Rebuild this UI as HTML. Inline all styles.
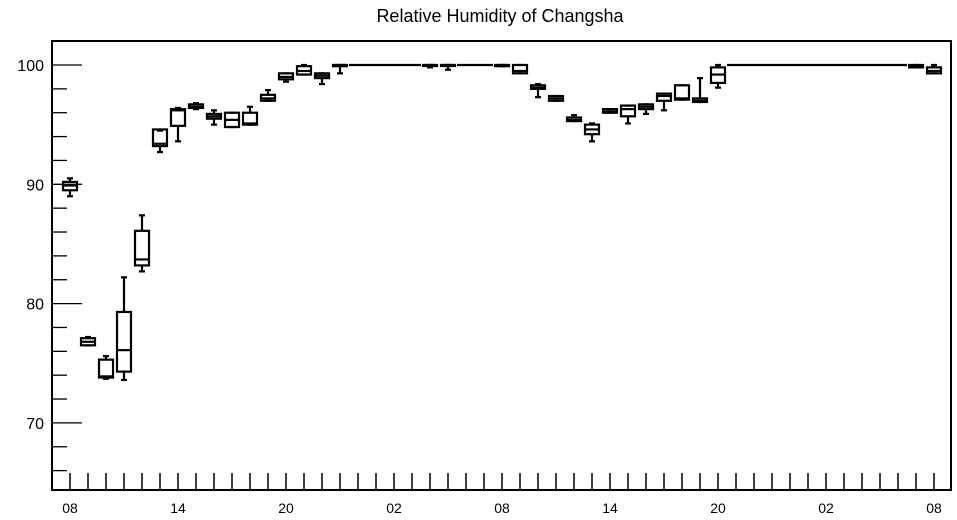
<!DOCTYPE html>
<html><head><meta charset="utf-8"><style>
body{margin:0;background:#fff;}
svg{display:block;font-family:"Liberation Sans",Arial,sans-serif;}
</style></head><body>
<svg id="chart" width="957" height="520">
<text x="500" y="22" text-anchor="middle" font-size="18">Relative Humidity of Changsha</text>
<rect x="52" y="41" width="899" height="449" fill="none" stroke="#000" stroke-width="2"/>
<g id="axes"></g>
<g id="boxes"></g>
</svg>
<script>
const hourLabels = ["08","14","20","02","08","14","20","02","08"];
const yTicks = [70,80,90,100];
// per-hour stats: [lowWhisker, q1, median, q3, highWhisker]
const lows    = [89.0,76.5,73.7,73.6,82.7,92.7,93.6,96.3,95.0,94.8,95.0,97.0,98.6,99.2,98.4,99.3,100,100,100,100,99.8,99.6,100,100,99.9,99.3,97.3,97.0,95.3,93.6,96.0,95.1,95.9,96.2,97.1,96.9,98.1,100,100,100,100,100,100,100,100,100,100,99.8,99.3];
const q1s     = [89.5,76.5,73.8,74.3,83.2,93.2,94.9,96.4,95.5,94.8,95.0,97.0,98.8,99.2,98.9,99.9,100,100,100,100,100,100,100,100,99.9,99.3,98.0,97.0,95.3,94.2,96.0,95.7,96.3,97.0,97.1,96.9,98.5,100,100,100,100,100,100,100,100,100,100,99.8,99.3];
const medians = [89.9,76.8,73.9,76.1,83.7,93.4,96.2,96.5,95.7,95.4,95.1,97.2,99.0,99.5,99.1,100,100,100,100,100,100,100,100,100,100,99.5,98.1,97.2,95.4,94.6,96.1,96.3,96.5,97.4,97.2,97.0,99.2,100,100,100,100,100,100,100,100,100,100,99.9,99.5];
const q3s     = [90.2,77.1,75.3,79.3,86.1,94.6,96.3,96.7,95.9,96.0,96.0,97.5,99.3,99.9,99.3,100,100,100,100,100,100,100,100,100,100,100,98.3,97.4,95.6,95.0,96.3,96.6,96.7,97.6,98.3,97.2,99.8,100,100,100,100,100,100,100,100,100,100,100,99.8];
const highs   = [90.5,77.2,75.6,82.2,87.4,94.5,96.4,96.8,96.2,96.0,96.5,97.9,99.3,100,99.3,100,100,100,100,100,100,100,100,100,100,100,98.4,97.4,95.8,95.1,96.3,96.6,96.7,97.6,98.3,98.9,100,100,100,100,100,100,100,100,100,100,100,100,100];

const NS="http://www.w3.org/2000/svg";
const L=52,R=951,T=41,B=490;
const x0=70, hourPx=18;
function xs(i){return x0+i*hourPx;}
function ys(v){return 65+(100-v)*11.93;}
function mk(tag,attrs,parent){const e=document.createElementNS(NS,tag);for(const k in attrs)e.setAttribute(k,attrs[k]);parent.appendChild(e);return e;}
const axes=document.getElementById('axes');
// y ticks minor every 2
for(let v=66;v<=102;v+=2){
  const yy=ys(v); if(yy<T||yy>B)continue;
  const major=(v%10===0);
  const t=mk('line',{x1:L,x2:L+(major?30:15),y1:yy,y2:yy,stroke:'#000','stroke-width':1.3},axes);
  
  
}
yTicks.forEach(v=>{
  const t=mk('text',{x:44,y:ys(v)+6,'text-anchor':'end','font-size':16},axes);
  t.textContent=v;
  
  
});
for(let i=0;i<lows.length;i++){
  const t=mk('line',{x1:xs(i),x2:xs(i),y1:B,y2:B-17,stroke:'#000','stroke-width':1.5},axes);
  
  
}
hourLabels.forEach((lab,k)=>{
  const t=mk('text',{x:xs(k*6),y:513,'text-anchor':'middle','font-size':14},axes);
  t.textContent=lab;
  
  
});
const boxes=document.getElementById('boxes');
const hw=7;
for(let i=0;i<lows.length;i++){
  const g=mk('g',{stroke:'#000','stroke-width':2.2,fill:'none'},boxes);
  
  
  const cx=xs(i);
  if(q3s[i]-lows[i]<0.05 && highs[i]-q1s[i]<0.05){
    mk('line',{x1:cx-9,x2:cx+9,y1:ys(medians[i]),y2:ys(medians[i])},g);
    continue;
  }
  mk('line',{x1:cx,x2:cx,y1:ys(highs[i]),y2:ys(q3s[i])},g);
  mk('line',{x1:cx,x2:cx,y1:ys(q1s[i]),y2:ys(lows[i])},g);
  mk('line',{x1:cx-3,x2:cx+3,y1:ys(highs[i]),y2:ys(highs[i])},g);
  mk('line',{x1:cx-3,x2:cx+3,y1:ys(lows[i]),y2:ys(lows[i])},g);
  mk('rect',{x:cx-hw,y:ys(q3s[i]),width:hw*2,height:Math.max(1,ys(q1s[i])-ys(q3s[i]))},g);
  mk('line',{x1:cx-hw,x2:cx+hw,y1:ys(medians[i]),y2:ys(medians[i])},g);
}
</script>
</body></html>
